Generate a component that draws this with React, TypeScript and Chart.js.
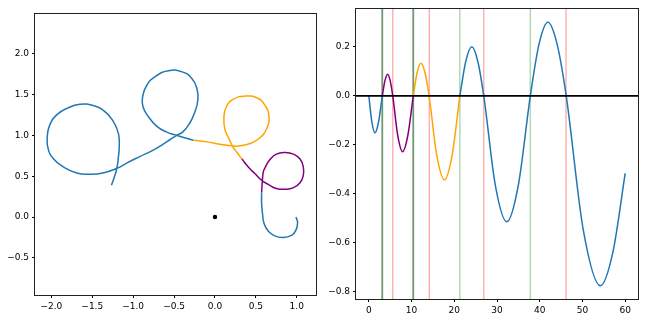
import React, { useEffect, useRef } from 'react';
import { Chart, registerables } from 'chart.js';
Chart.register(...registerables);

// ---------- left panel: the planar curve, split by colour ----------
const curveTail: [number, number][] = [
  [0.99, 0.0], [1.01, -0.07], [0.99, -0.16], [0.94, -0.22], [0.835, -0.25], [0.73, -0.23],
  [0.65, -0.17], [0.6, -0.08], [0.58, 0.05], [0.57, 0.17], [0.57, 0.3],
];
const curvePurple: [number, number][] = [
  [0.57, 0.3], [0.575, 0.38], [0.58, 0.45], [0.59, 0.55], [0.61, 0.6], [0.67, 0.7], [0.75, 0.77],
  [0.86, 0.79], [0.96, 0.77], [1.04, 0.71], [1.08, 0.61], [1.08, 0.51], [1.04, 0.42], [0.96, 0.36],
  [0.86, 0.34], [0.75, 0.35], [0.65, 0.4], [0.57, 0.45], [0.49, 0.53], [0.41, 0.61], [0.33, 0.71],
];
const curveOrange: [number, number][] = [
  [0.33, 0.71], [0.27, 0.79], [0.22, 0.86], [0.175, 0.95], [0.12, 1.08], [0.11, 1.23], [0.14, 1.35],
  [0.22, 1.44], [0.37, 1.48], [0.51, 1.46], [0.61, 1.37], [0.66, 1.23], [0.63, 1.08], [0.55, 0.97],
  [0.43, 0.9], [0.285, 0.87], [0.22, 0.87], [0.06, 0.89], [-0.1, 0.92], [-0.265, 0.94],
];
const curveMain: [number, number][] = [
  [-0.265, 0.94], [-0.37, 0.97], [-0.47, 1.0], [-0.59, 1.04], [-0.71, 1.11], [-0.815, 1.23],
  [-0.88, 1.35], [-0.885, 1.47], [-0.835, 1.61], [-0.73, 1.72], [-0.57, 1.79], [-0.41, 1.78],
  [-0.285, 1.7], [-0.22, 1.57], [-0.21, 1.43], [-0.245, 1.29], [-0.31, 1.145], [-0.395, 1.04],
  [-0.47, 1.0], [-0.59, 0.92], [-0.755, 0.82], [-0.92, 0.74], [-1.08, 0.66], [-1.2, 0.595],
  [-1.37, 0.54], [-1.53, 0.525], [-1.69, 0.54], [-1.855, 0.615], [-1.98, 0.72], [-2.04, 0.84],
  [-2.05, 0.98], [-2.02, 1.125], [-1.935, 1.25], [-1.81, 1.33], [-1.65, 1.38], [-1.49, 1.365],
  [-1.345, 1.29], [-1.24, 1.165], [-1.18, 1.02], [-1.17, 0.86], [-1.18, 0.74], [-1.2, 0.595],
  [-1.23, 0.49], [-1.265, 0.39],
];
const originPoint: [number, number] = [0, 0];
const leftXTicks = [-2.0, -1.5, -1.0, -0.5, 0.0, 0.5, 1.0];
const leftYTicks = [-0.5, 0.0, 0.5, 1.0, 1.5, 2.0];
const leftXRange = [-2.2, 1.235];
const leftYRange = [-0.954, 2.485];

// ---------- right panel: curvature vs arc length ----------
const sBlueA = [0, 0.7, 1.45, 2.3, 3.15];
const kBlueA = [0, -0.105, -0.151, -0.105, 0];
const sPurple = [3.15, 3.78, 4.4, 5.0, 5.6, 6.75, 7.9, 9.15, 10.4];
const kPurple = [0, 0.062, 0.088, 0.062, 0, -0.16, -0.228, -0.16, 0];
const sOrange = [10.4, 11.3, 12.2, 13.15, 14.1, 15.9, 17.7, 19.5, 21.3];
const kOrange = [0, 0.094, 0.133, 0.094, 0, -0.242, -0.343, -0.242, 0];
const sBlueB = [21.3, 22.7, 24.1, 25.5, 26.9, 29.6, 32.3, 35.0, 37.8, 39.85, 41.9, 44.05, 46.2, 50.2, 54.2, 57.1, 60];
const kBlueB = [0, 0.141, 0.2, 0.141, 0, -0.364, -0.514, -0.364, 0, 0.212, 0.3, 0.212, 0, -0.548, -0.775, -0.64, -0.317];
const zeroLineS = [-3, 63];
const zeroLineK = [0, 0];
const darkGreenLines = [3.15, 10.4];
const greenLines = [21.3, 37.8];
const redLines = [5.6, 14.15, 26.9, 46.15];
const rightXTicks = [0, 10, 20, 30, 40, 50, 60];
const rightYTicks = [-0.8, -0.6, -0.4, -0.2, 0.0, 0.2];
const rightXRange = [-3, 63];
const rightYRange = [-0.829, 0.354];

const BLUE = '#1f77b4';
const FONT = "'DejaVu Sans', sans-serif";
const minus = (s: string) => s.replace('-', '\u2212');

const fixedTicks = (values: number[]) => (scale: any) => {
  scale.ticks = values.map((v) => ({ value: v }));
};

const framePlugin = {
  id: 'frame',
  afterDraw(chart: any) {
    const { ctx, chartArea: a } = chart;
    ctx.save();
    ctx.strokeStyle = '#222';
    ctx.lineWidth = 1;
    ctx.strokeRect(a.left - 0.5, a.top - 0.5, a.right - a.left + 1, a.bottom - a.top + 1);
    ctx.restore();
  },
};

const vlinePlugin = {
  id: 'vlines',
  beforeDatasetsDraw(chart: any) {
    const { ctx, chartArea: a } = chart;
    const xs = chart.scales.x;
    const draw = (vals: number[], color: string, w: number) => {
      vals.forEach((v) => {
        const px = xs.getPixelForValue(v);
        ctx.beginPath();
        ctx.moveTo(px, a.top);
        ctx.lineTo(px, a.bottom);
        ctx.strokeStyle = color;
        ctx.lineWidth = w;
        ctx.stroke();
      });
    };
    ctx.save();
    draw(redLines, 'rgba(255,0,0,0.3)', 1.5);
    draw(greenLines, 'rgba(0,128,0,0.3)', 1.5);
    draw(darkGreenLines, 'rgba(40,95,40,0.65)', 1.8);
    ctx.restore();
  },
};

const axisCommon = (ticksArr: number[], fmt: (v: number) => string) => ({
  type: 'linear' as const,
  afterBuildTicks: fixedTicks(ticksArr),
  ticks: {
    autoSkip: false,
    maxRotation: 0,
    padding: 3,
    color: '#000',
    font: { family: FONT, size: 9 },
    callback: (v: any) => fmt(Number(v)),
  },
  grid: { display: true, drawOnChartArea: false, drawTicks: true, tickLength: 3, color: '#000' },
  border: { display: false },
});

const pairSeg = (pts: [number, number][], color: string) => ({
  data: pts.map(([x, y]) => ({ x, y })),
  showLine: true,
  borderColor: color,
  borderWidth: 1.5,
  pointRadius: 0,
  tension: 0.5,
  order: 1,
});

const kSeg = (s: number[], k: number[], color: string) => ({
  data: s.map((x, i) => ({ x, y: k[i] })),
  showLine: true,
  borderColor: color,
  borderWidth: 1.5,
  pointRadius: 0,
  cubicInterpolationMode: 'monotone' as const,
  order: 1,
});

export default function App() {
  const leftRef = useRef<HTMLCanvasElement>(null);
  const rightRef = useRef<HTMLCanvasElement>(null);

  useEffect(() => {
    document.body.style.margin = '0';
    const left = new Chart(leftRef.current!, {
      type: 'scatter',
      data: {
        datasets: [
          pairSeg(curveTail, BLUE),
          pairSeg(curvePurple, 'purple'),
          pairSeg(curveOrange, 'orange'),
          pairSeg(curveMain, BLUE),
          {
            data: [{ x: originPoint[0], y: originPoint[1] }],
            showLine: false,
            pointRadius: 2.2,
            pointBackgroundColor: '#000',
            pointBorderWidth: 0,
            order: 0,
          } as any,
        ],
      },
      options: {
        animation: false,
        responsive: false,
        layout: { padding: { left: 0, top: 14, right: 8, bottom: 0 } },
        plugins: { legend: { display: false }, tooltip: { enabled: false } },
        scales: {
          x: {
            ...axisCommon(leftXTicks, (v) => minus(v.toFixed(1))),
            min: leftXRange[0],
            max: leftXRange[1],
            afterFit: (s: any) => { s.height = 26; },
          } as any,
          y: {
            ...axisCommon(leftYTicks, (v) => minus(v.toFixed(1))),
            min: leftYRange[0],
            max: leftYRange[1],
            afterFit: (s: any) => { s.width = 35; },
          } as any,
        },
      },
      plugins: [framePlugin],
    });

    const right = new Chart(rightRef.current!, {
      type: 'scatter',
      data: {
        datasets: [
          {
            data: zeroLineS.map((x, i) => ({ x, y: zeroLineK[i] })),
            showLine: true,
            borderColor: '#000',
            borderWidth: 1.8,
            pointRadius: 0,
            order: 0,
          } as any,
          kSeg(sBlueA, kBlueA, BLUE),
          kSeg(sPurple, kPurple, 'purple'),
          kSeg(sOrange, kOrange, 'orange'),
          kSeg(sBlueB, kBlueB, BLUE),
        ],
      },
      options: {
        animation: false,
        responsive: false,
        layout: { padding: { left: 0, top: 9, right: 10, bottom: 0 } },
        plugins: { legend: { display: false }, tooltip: { enabled: false } },
        scales: {
          x: {
            ...axisCommon(rightXTicks, (v) => String(v)),
            min: rightXRange[0],
            max: rightXRange[1],
            afterFit: (s: any) => { s.height = 22; },
          } as any,
          y: {
            ...axisCommon(rightYTicks, (v) => minus(v.toFixed(1))),
            min: rightYRange[0],
            max: rightYRange[1],
            afterFit: (s: any) => { s.width = 32; },
          } as any,
        },
      },
      plugins: [vlinePlugin, framePlugin],
    });

    return () => {
      left.destroy();
      right.destroy();
    };
  }, []);

  return (
    <div style={{ position: 'absolute', left: 0, top: 0, width: 648, height: 321, background: '#fff' }}>
      <canvas ref={leftRef} width={324} height={321} style={{ position: 'absolute', left: 0, top: 0 }} />
      <canvas ref={rightRef} width={324} height={321} style={{ position: 'absolute', left: 324, top: 0 }} />
    </div>
  );
}
